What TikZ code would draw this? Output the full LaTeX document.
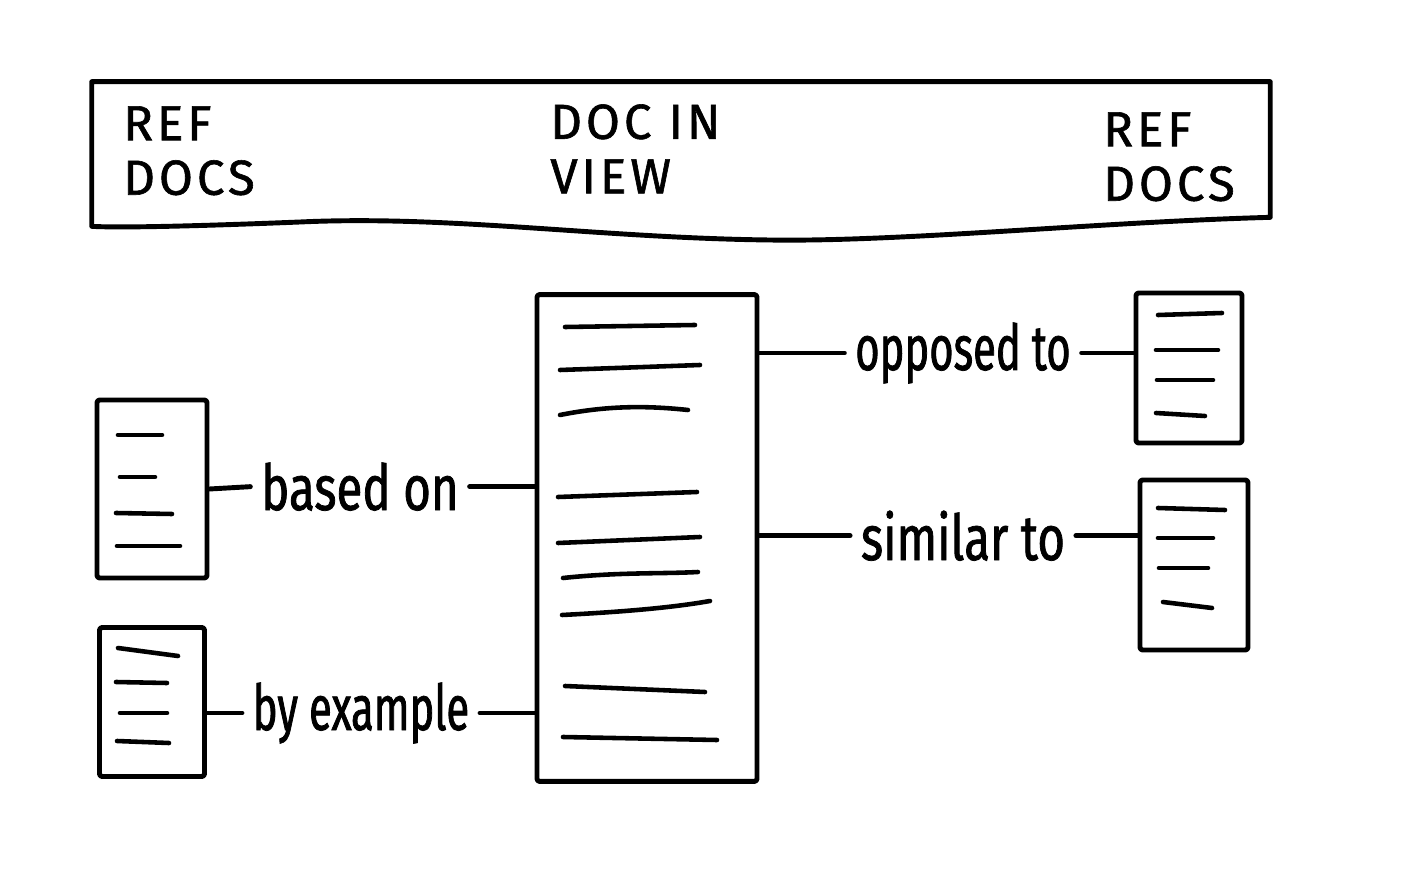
\documentclass[tikz,border=0pt]{standalone}
\usepackage{fontspec}
\usetikzlibrary{calc}
\newfontfamily\handfont[FakeStretch=0.75,FakeBold=1.2]{Fira Sans}
\newfontfamily\handfontn[FakeStretch=0.66,FakeBold=1.2]{Fira Sans}
\newfontfamily\capsfont[LetterSpace=8,FakeBold=1.2]{Fira Sans}
\tikzset{
  sk/.style={line width=2.8pt, line cap=round, line join=round},
  doc/.style={sk, draw, rectangle, inner sep=0pt, rounded corners=1.5pt},
  txtline/.style={line width=2.6pt, line cap=round},
  lbl/.style={font=\handfont\fontsize{36}{40}\selectfont, inner xsep=6pt, inner ysep=2pt},
  lbln/.style={lbl, font=\handfontn\fontsize{36}{40}\selectfont},
  hdrtxt/.style={font=\capsfont\fontsize{28}{31}\selectfont, align=left, inner sep=0pt, anchor=north west},
  conn/.style={sk}
}
\begin{document}
\begin{tikzpicture}[x=0.02cm,y=-0.02cm]
\fill[white] (0,0) rectangle (1404,885);
\useasboundingbox (0,0) rectangle (1404,885);

% header
\node[minimum width=23.56cm, minimum height=2.8cm, inner sep=0pt] (hdr) at (681,152) {};
\draw[sk] (hdr.north west) -- (hdr.north east) -- ($(hdr.south east)+(0,-5)$)
  .. controls (1100,222) and (900,242) .. (770,240)
  .. controls (600,238) and (450,215) .. (300,222)
  .. controls (200,226) and (120,228) .. ($(hdr.south west)+(0,4)$) -- cycle;
\node[hdrtxt] (refL) at (123,106) {REF\\DOCS};
\node[hdrtxt] (dociv) at (550,104) {DOC IN\\VIEW};
\node[hdrtxt] (refR) at (1103,112) {REF\\DOCS};

% documents
\node[doc, minimum width=4.4cm, minimum height=9.74cm] (mid) at (647,538) {};
\node[doc, minimum width=2.2cm, minimum height=3.56cm] (l1) at (152,489) {};
\node[doc, minimum width=2.1cm, minimum height=2.98cm] (l2) at (152,702) {};
\node[doc, minimum width=2.12cm, minimum height=3.0cm] (r1) at (1189,368) {};
\node[doc, minimum width=2.16cm, minimum height=3.4cm] (r2) at (1194,565) {};

% text lines in central doc
\draw[txtline] (565,327) -- (695,325);
\draw[txtline] (560,370) -- (700,365);
\draw[txtline] (560,415) .. controls (610,405) and (650,406) .. (688,410);
\draw[txtline] (558,497) -- (697,492);
\draw[txtline] (558,543) -- (700,537);
\draw[txtline] (563,578) .. controls (620,572) and (660,574) .. (698,572);
\draw[txtline] (562,615) .. controls (620,612) and (670,608) .. (710,601);
\draw[txtline] (565,686) -- (705,692);
\draw[txtline] (563,737) -- (717,740);

% text lines in left docs
\draw[txtline] (118,435) -- (162,435);
\draw[txtline] (120,477) -- (155,477);
\draw[txtline] (116,513) -- (172,514);
\draw[txtline] (117,546) -- (180,546);
\draw[txtline] (118,648) -- (178,656);
\draw[txtline] (116,682) -- (167,683);
\draw[txtline] (120,713) -- (167,713);
\draw[txtline] (117,741) -- (169,743);

% text lines in right docs
\draw[txtline] (1158,315) -- (1222,313);
\draw[txtline] (1156,350) -- (1218,350);
\draw[txtline] (1157,380) -- (1213,380);
\draw[txtline] (1156,413) -- (1205,416);
\draw[txtline] (1158,508) -- (1225,510);
\draw[txtline] (1158,538) -- (1213,538);
\draw[txtline] (1159,568) -- (1208,568);
\draw[txtline] (1163,602) -- (1212,608);

% labels
\node[lbl, anchor=base] (based) at (360,510) {based on};
\node[lbln, anchor=base] (byex) at (361,730) {by example};
\node[lbln, anchor=base] (opp) at (963,370) {opposed to};
\node[lbl, anchor=base] (sim) at (963,560) {similar to};

% connectors
\draw[conn] (l1.east) -- (based.west);
\draw[conn] (based.east) -- (based.east -| mid.west);
\draw[conn] (l2.east |- byex.west) -- (byex.west);
\draw[conn] (byex.east) -- (byex.east -| mid.west);
\draw[conn] (mid.east |- opp.west) -- (opp.west);
\draw[conn] (opp.east) -- (opp.east -| r1.west);
\draw[conn] (mid.east |- sim.west) -- (sim.west);
\draw[conn] (sim.east) -- (sim.east -| r2.west);
\end{tikzpicture}
\end{document}
